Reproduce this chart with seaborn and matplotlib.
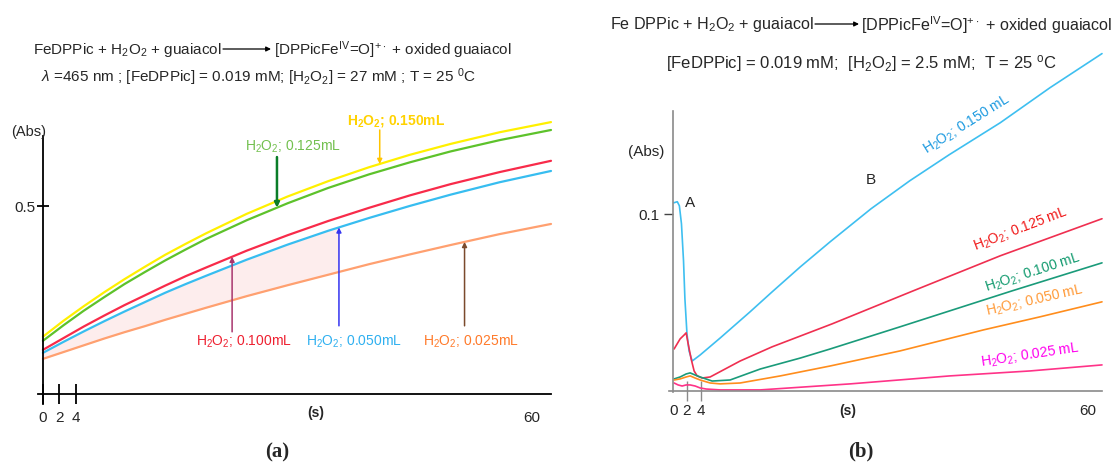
import numpy as np
import matplotlib
matplotlib.use("Agg")
import matplotlib.pyplot as plt
import seaborn as sns

sns.set_theme(style="white")
plt.rcParams["font.family"] = ["Liberation Sans", "DejaVu Sans"]
plt.rcParams["mathtext.fontset"] = "custom"
plt.rcParams["mathtext.rm"] = "Liberation Sans"
plt.rcParams["mathtext.it"] = "Liberation Sans:italic"
plt.rcParams["mathtext.bf"] = "Liberation Sans:bold"

# ---- panel (a) data: time (s) and absorbance ----
t_a = [0, 2.5, 5, 7.5, 10, 12.5, 15, 17.5, 20, 25, 30, 35, 40, 45, 50, 56, 62.3]
abs_a_150 = [0.152, 0.194, 0.233, 0.270, 0.305, 0.338, 0.370, 0.399, 0.427,
             0.479, 0.525, 0.566, 0.603, 0.636, 0.665, 0.696, 0.723]
abs_a_125 = [0.141, 0.182, 0.221, 0.257, 0.292, 0.324, 0.355, 0.384, 0.412,
             0.462, 0.507, 0.548, 0.584, 0.616, 0.645, 0.675, 0.702]
abs_a_100 = [0.117, 0.148, 0.179, 0.208, 0.236, 0.262, 0.288, 0.313, 0.336,
             0.381, 0.422, 0.460, 0.495, 0.528, 0.558, 0.590, 0.620]
abs_a_050 = [0.109, 0.138, 0.166, 0.193, 0.219, 0.244, 0.269, 0.292, 0.314,
             0.357, 0.397, 0.434, 0.468, 0.500, 0.530, 0.563, 0.593]
abs_a_025 = [0.093, 0.111, 0.129, 0.147, 0.164, 0.180, 0.197, 0.213, 0.229,
             0.260, 0.289, 0.317, 0.345, 0.371, 0.396, 0.425, 0.452]

# ---- panel (b) data ----
t_b_150 = [0.1, 0.6, 0.9, 1.2, 1.5, 1.7, 2.0, 2.3, 2.75, 3.9, 6.8, 11.1, 14.3,
           18.4, 22.7, 28.6, 34.2, 39.9, 47.3, 54.5, 62.0]
abs_b_150 = [0.1062, 0.1068, 0.1045, 0.0944, 0.0734, 0.052, 0.0322, 0.0226,
             0.0169, 0.0203, 0.0299, 0.0446, 0.0559, 0.0701, 0.0842, 0.1028,
             0.1186, 0.1333, 0.1514, 0.1712, 0.1904]
t_b_125 = [0.14, 0.58, 1.01, 1.59, 1.88, 2.17, 2.60, 3.03, 3.47, 4.19, 5.35,
           9.68, 14.3, 23.0, 34.7, 47.3, 62.0]
abs_b_125 = [0.0237, 0.0266, 0.0294, 0.0316, 0.0328, 0.0266, 0.0181, 0.0113,
             0.0085, 0.0073, 0.0079, 0.0169, 0.0249, 0.0379, 0.0565, 0.0763,
             0.0972]
t_b_100 = [0.14, 1.01, 1.88, 2.46, 3.18, 3.90, 5.64, 8.24, 12.6, 18.4, 22.7,
           32.8, 49.0, 62.0]
abs_b_100 = [0.0068, 0.0079, 0.0096, 0.0102, 0.009, 0.0079, 0.0056, 0.0062,
             0.0124, 0.0186, 0.0237, 0.0362, 0.0565, 0.0723]
t_b_050 = [0.14, 1.01, 1.88, 2.46, 3.18, 3.90, 5.35, 6.79, 9.68, 15.5, 22.7,
           32.8, 44.9, 53.0, 62.0]
abs_b_050 = [0.0062, 0.0068, 0.0079, 0.0085, 0.0073, 0.0062, 0.0045, 0.004,
             0.0045, 0.0085, 0.0141, 0.0226, 0.0345, 0.0418, 0.0503]
t_b_025 = [0.14, 0.72, 1.30, 1.88, 2.46, 3.18, 3.90, 4.77, 6.79, 12.6, 25.6,
           40.0, 51.6, 62.0]
abs_b_025 = [0.0045, 0.0034, 0.0028, 0.0034, 0.0034, 0.0028, 0.0017, 0.0011,
             0.0006, 0.0006, 0.004, 0.0085, 0.0113, 0.0147]

W, H = 1113, 464
fig = plt.figure(figsize=(W / 100, H / 100), dpi=100)


def px_box(l, t, r, b):
    return [l / W, 1 - b / H, (r - l) / W, (b - t) / H]


def h2o2(vol, bold=False):
    if bold:
        return r"$\mathbf{H_2O_2}$; " + vol
    return r"H$_2$O$_2$; " + vol


# ================= panel (a) =================
ax_a = fig.add_axes(px_box(38, 137, 551, 405))
ax_a.set_xlim(-0.6, 62.3)
ax_a.set_ylim(-0.027, 0.686)

# faint shading between the 0.050 and 0.025 traces
xs = np.linspace(0, 36.3, 60)
ax_a.fill_between(xs, np.interp(xs, t_a, abs_a_025), np.interp(xs, t_a, abs_a_050),
                  color="#fdeded", lw=0, zorder=0)

curves_a = [(abs_a_150, "#fff000"), (abs_a_125, "#5dc22b"), (abs_a_100, "#f82b4a"),
            (abs_a_050, "#37bdf0"), (abs_a_025, "#ffa070")]
for vals, col in curves_a:
    sns.lineplot(x=t_a, y=vals, color=col, lw=1.6, ax=ax_a, clip_on=False)

for side in ["top", "right"]:
    ax_a.spines[side].set_visible(False)
ax_a.spines["left"].set_position(("data", 0))
ax_a.spines["bottom"].set_position(("data", 0))
for side in ["left", "bottom"]:
    ax_a.spines[side].set_color("black")
    ax_a.spines[side].set_linewidth(1.3)

ax_a.set_xticks([0, 2, 4, 60])
ax_a.set_xticklabels(["0", "2", "4", "60"])
ax_a.tick_params(axis="x", bottom=True, direction="inout", length=15, width=1.3,
                 pad=4, labelsize=11, color="black")
ax_a.xaxis.get_major_ticks()[3].tick1line.set_visible(False)
ax_a.set_yticks([0.5])
ax_a.set_yticklabels(["0.5"])
ax_a.tick_params(axis="y", left=True, direction="inout", length=8, width=1.3,
                 pad=1.5, labelsize=11, color="black")
ax_a.set_xlabel("")
ax_a.set_ylabel("")

ax_a.text(33.5, -0.048, "(s)", ha="center", va="center", fontsize=10,
          fontweight="bold", clip_on=False)
ax_a.text(-1.7, 0.70, "(Abs)", ha="center", va="center", fontsize=10.5, clip_on=False)


def arrow(ax, x, y_tail, y_tip, color, lw):
    ax.annotate("", xy=(x, y_tip), xytext=(x, y_tail), annotation_clip=False,
                arrowprops=dict(arrowstyle="-|>", color=color, lw=lw, shrinkA=0,
                                shrinkB=0, mutation_scale=7))


arrow(ax_a, 28.7, 0.630, np.interp(28.7, t_a, abs_a_125), "#0a7d28", 1.8)
arrow(ax_a, 41.3, 0.702, np.interp(41.3, t_a, abs_a_150), "#ffc400", 1.1)
arrow(ax_a, 23.2, 0.165, np.interp(23.2, t_a, abs_a_100), "#a8366e", 1.1)
arrow(ax_a, 36.3, 0.181, np.interp(36.3, t_a, abs_a_050), "#3535f0", 1.1)
arrow(ax_a, 51.7, 0.181, np.interp(51.7, t_a, abs_a_025), "#7b4a2c", 1.1)

ax_a.text(43.3, 0.729, h2o2("0.150mL", bold=True), color="#ffd200", fontsize=10,
          fontweight="bold", ha="center", va="center", clip_on=False)
ax_a.text(30.7, 0.66, h2o2("0.125mL"), color="#72c04e", fontsize=10,
          ha="center", va="center", clip_on=False)
ax_a.text(24.6, 0.141, h2o2("0.100mL"), color="#ee2030", fontsize=10,
          ha="center", va="center", clip_on=False)
ax_a.text(38.1, 0.141, h2o2("0.050mL"), color="#2fb0f0", fontsize=10,
          ha="center", va="center", clip_on=False)
ax_a.text(52.5, 0.141, h2o2("0.025mL"), color="#ff7a2a", fontsize=10,
          ha="center", va="center", clip_on=False)

# ================= panel (b) =================
ax_b = fig.add_axes(px_box(669, 112, 1102, 392.5))
ax_b.set_xlim(-0.6, 62.0)
ax_b.set_ylim(-0.0003, 0.158)

curves_b = [(t_b_150, abs_b_150, "#3ebff0"), (t_b_125, abs_b_125, "#ef2f50"),
            (t_b_100, abs_b_100, "#1a9b7a"), (t_b_050, abs_b_050, "#ff8d1c"),
            (t_b_025, abs_b_025, "#ff3388")]
for tt, vals, col in curves_b:
    sns.lineplot(x=tt, y=vals, color=col, lw=1.2, ax=ax_b, clip_on=False)

for side in ["top", "right"]:
    ax_b.spines[side].set_visible(False)
ax_b.spines["left"].set_position(("data", 0))
ax_b.spines["bottom"].set_position(("data", 0))
for side in ["left", "bottom"]:
    ax_b.spines[side].set_color("#8a8a8a")
    ax_b.spines[side].set_linewidth(1.2)

ax_b.set_xticks([0, 2, 4, 60])
ax_b.set_xticklabels(["0", "2", "4", "60"])
ax_b.tick_params(axis="x", bottom=True, direction="inout", length=15, width=1.0,
                 pad=1, labelsize=11, color="#8a8a8a")
xt = ax_b.xaxis.get_major_ticks()
xt[0].tick1line.set_visible(False)
xt[3].tick1line.set_visible(False)
xt[1].tick1line.set_color("black")
ax_b.set_yticks([0.1])
ax_b.set_yticklabels(["0.1"])
ax_b.tick_params(axis="y", left=True, direction="out", length=6.5, width=1.0,
                 pad=3, labelsize=11, color="#444444")
ax_b.set_xlabel("")
ax_b.set_ylabel("")

ax_b.text(25.3, -0.0105, "(s)", ha="center", va="center", fontsize=10,
          fontweight="bold", clip_on=False)
ax_b.text(-3.9, 0.1356, "(Abs)", ha="center", va="center", fontsize=11, clip_on=False)
ax_b.text(2.5, 0.1068, "A", ha="center", va="center", fontsize=11, clip_on=False)
ax_b.text(28.6, 0.1198, "B", ha="center", va="center", fontsize=11, clip_on=False)

labels_b = [(42.5, 0.151, "0.150 mL", "#1c9ae0", 32),
            (50.3, 0.0915, "0.125 mL", "#f01818", 21),
            (52.0, 0.0670, "0.100 mL", "#119a6e", 18),
            (52.3, 0.0515, "0.050 mL", "#ff9a38", 13),
            (51.6, 0.0205, "0.025 mL", "#ff00ee", 8.5)]
for x, y, vol, col, rot in labels_b:
    ax_b.text(x, y, h2o2(vol), color=col, fontsize=10, rotation=rot,
              rotation_mode="anchor", ha="center", va="center", clip_on=False)

# ================= titles =================
def ftext(x, y, s, size=11, **kw):
    fig.text(x / W, 1 - y / H, s, va="center", fontsize=size, **kw)


def farrow(x0, x1, y):
    ax_a.annotate("", xy=(x1, H - y), xytext=(x0, H - y), xycoords="figure pixels",
                  textcoords="figure pixels",
                  arrowprops=dict(arrowstyle="-|>", color="black", lw=0.9,
                                  shrinkA=0, shrinkB=0, mutation_scale=7))


ftext(222, 50, r"FeDPPic + H$_2$O$_2$ + guaiacol", ha="right")
farrow(223, 271, 50)
ftext(274, 50, r"[DPPicFe$^{\mathrm{IV}}$=O]$^{+\cdot}$ + oxided guaiacol", ha="left")
ftext(41, 77, r"$\lambda$ =465 nm ; [FeDPPic] = 0.019 mM; [H$_2$O$_2$] = 27 mM ; T = 25 $^0$C",
      ha="left")

ftext(814, 25, r"Fe DPPic + H$_2$O$_2$ + guaiacol", size=11.6, ha="right")
farrow(815, 859, 25)
ftext(861, 25, r"[DPPicFe$^{\mathrm{IV}}$=O]$^{+\cdot}$ + oxided guaiacol", size=11.6,
      ha="left")
ftext(666, 63, r"[FeDPPic] = 0.019 mM;  [H$_2$O$_2$] = 2.5 mM;  T = 25 $^{\mathrm{o}}$C",
      size=12, ha="left")

fig.text(277 / W, 1 - 452 / H, "(a)", ha="center", va="center", fontsize=15,
         fontweight="bold", family=["Liberation Serif", "DejaVu Serif"])
fig.text(861 / W, 1 - 451 / H, "(b)", ha="center", va="center", fontsize=15,
         fontweight="bold", family=["Liberation Serif", "DejaVu Serif"])

fig.savefig("out.png", dpi=100)
